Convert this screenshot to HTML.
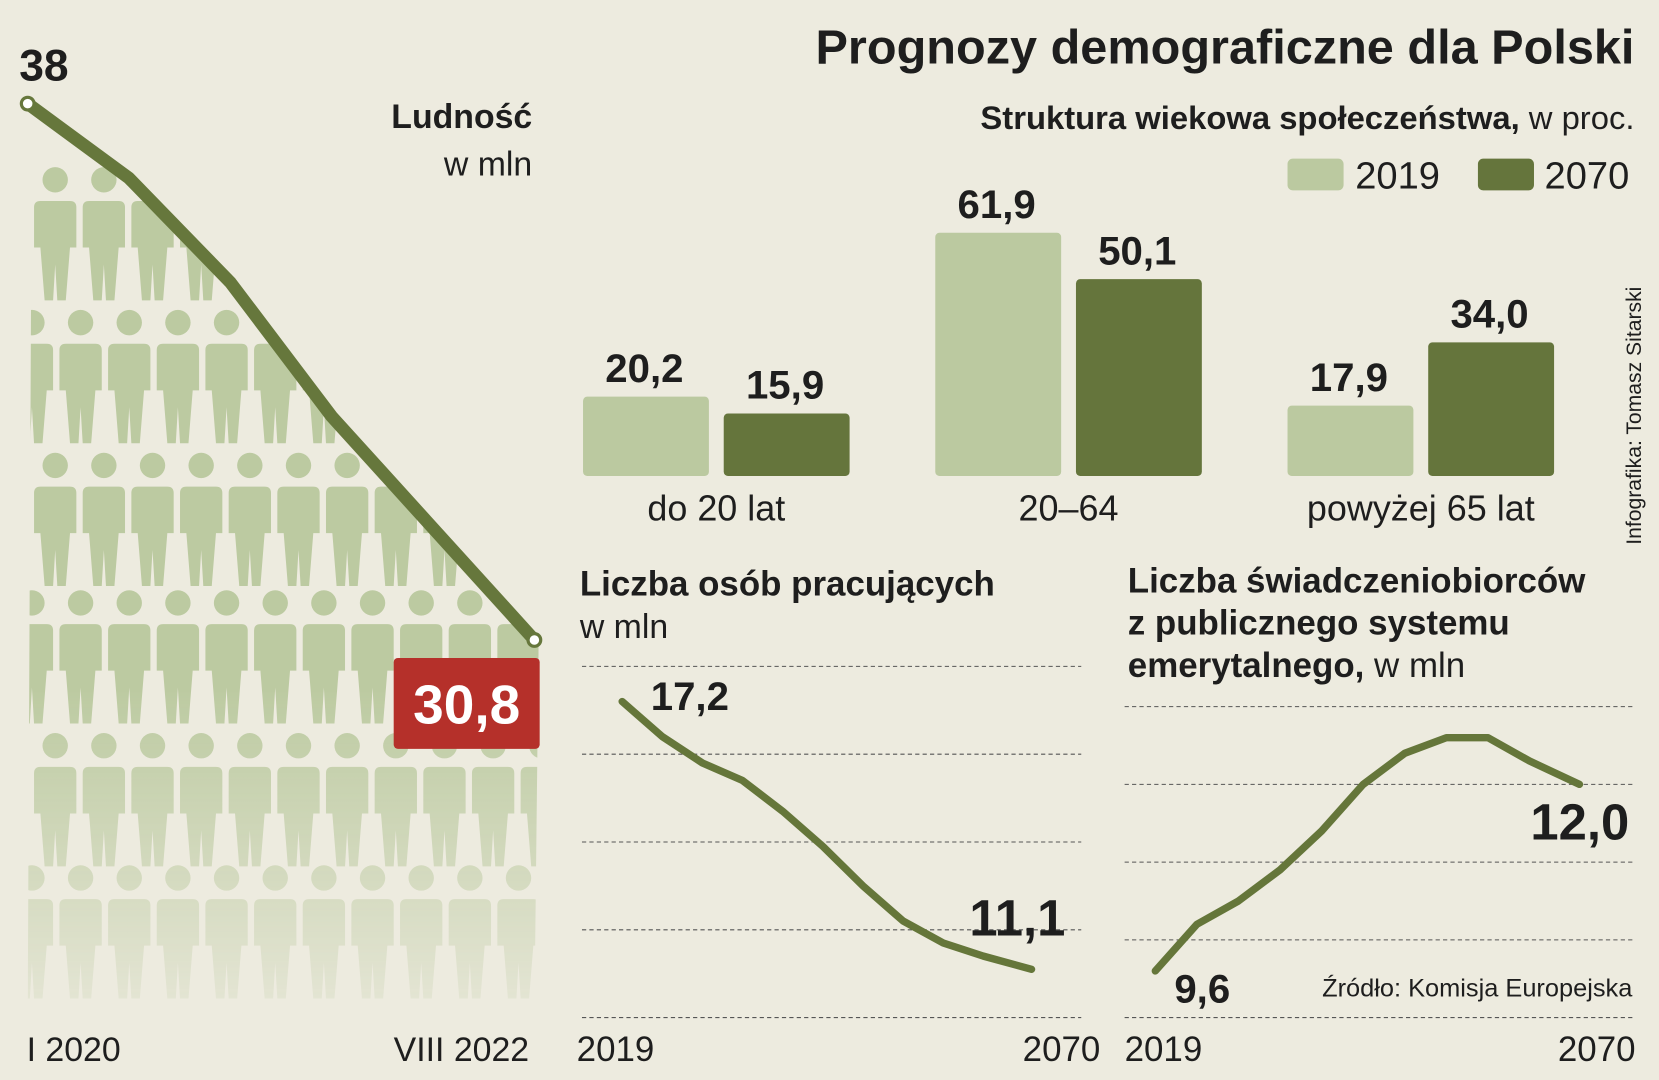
<!DOCTYPE html>
<html><head><meta charset="utf-8">
<style>
html,body{margin:0;padding:0;background:#edebdf;}
svg{display:block;}
text{font-family:"Liberation Sans Narrow","Liberation Sans",sans-serif;fill:#1e1e1e;}
.b{font-weight:bold;}
</style></head>
<body>
<svg id="s" width="1659" height="1080" viewBox="0 0 1568 1021" xmlns="http://www.w3.org/2000/svg">
<rect x="0" y="0" width="1568" height="1021" fill="#edebdf"/>
<defs>
<clipPath id="pclip"><polygon id="pclipPoly" points=""/></clipPath>
<linearGradient id="fade" x1="0" y1="0" x2="0" y2="1">
<stop offset="0" stop-color="#fff" stop-opacity="1"/>
<stop offset="0.62" stop-color="#fff" stop-opacity="1"/>
<stop offset="1" stop-color="#fff" stop-opacity="0.15"/>
</linearGradient>
<mask id="fmask" maskUnits="userSpaceOnUse" x="0" y="150" width="520" height="810"><rect x="0" y="150" width="520" height="810" fill="url(#fade)"/></mask>
</defs>
<g id="people" clip-path="url(#pclip)" mask="url(#fmask)"></g>
<g id="popline"></g>
<text x="18" y="76" class="b" font-size="42">38</text>
<text x="503" y="121" class="b" font-size="32" text-anchor="end">Ludność</text>
<text x="503" y="166" font-size="32" text-anchor="end">w mln</text>
<rect x="372" y="622" width="138" height="86" rx="4" fill="#b5302a"/>
<text x="441" y="684" class="b" font-size="52" text-anchor="middle" style="fill:#fff">30,8</text>
<text x="25" y="1003" font-size="32">I 2020</text>
<text x="500" y="1003" font-size="32" text-anchor="end">VIII 2022</text>

<text x="1545" y="60" class="b" font-size="46" text-anchor="end">Prognozy demograficzne dla Polski</text>
<text x="1545" y="122" font-size="31" text-anchor="end"><tspan class="b">Struktura wiekowa społeczeństwa,</tspan> w proc.</text>
<rect x="1217" y="150" width="53" height="30" rx="5" fill="#bbc9a0"/>
<text x="1281" y="178" font-size="36">2019</text>
<rect x="1397" y="150" width="53" height="30" rx="5" fill="#65753c"/>
<text x="1460" y="178" font-size="36">2070</text>
<g id="bars"></g>
<text x="0" y="0" font-size="20" transform="translate(1551,515) rotate(-90)">Infografika: Tomasz Sitarski</text>

<text x="548" y="563" class="b" font-size="33">Liczba osób pracujących</text>
<text x="548" y="603" font-size="32">w mln</text>
<g id="work"></g>
<text x="545" y="1003" font-size="33">2019</text>
<text x="1040" y="1003" font-size="33" text-anchor="end">2070</text>

<text x="1066" y="560" class="b" font-size="33">Liczba świadczeniobiorców</text>
<text x="1066" y="600" class="b" font-size="33">z publicznego systemu</text>
<text x="1066" y="640" font-size="33"><tspan class="b">emerytalnego,</tspan> w mln</text>
<g id="pens"></g>
<text x="1543" y="942" font-size="24" text-anchor="end">Źródło: Komisja Europejska</text>
<text x="1063" y="1003" font-size="33">2019</text>
<text x="1546" y="1003" font-size="33" text-anchor="end">2070</text>
</svg>
<script>
// ---- data ----
const popDates = [0, 1, 2, 3, 4, 5];
const popValues = [38.0, 37.0, 35.6, 33.8, 32.3, 30.8];
const ageCategories = ["do 20 lat", "20–64", "powyżej 65 lat"];
const ageValues2019 = [20.2, 61.9, 17.9];
const ageValues2070 = [15.9, 50.1, 34.0];
const ageLabels2019 = ["20,2", "61,9", "17,9"];
const ageLabels2070 = ["15,9", "50,1", "34,0"];
const workYears = [2019, 2024, 2029, 2034, 2039, 2044, 2049, 2054, 2059, 2064, 2070];
const workValues = [17.2, 16.4, 15.8, 15.4, 14.7, 13.9, 13.0, 12.2, 11.7, 11.4, 11.1];
const workTicks = [18, 16, 14, 12, 10];
const pensYears = [2019, 2024, 2029, 2034, 2039, 2044, 2049, 2054, 2059, 2064, 2070];
const pensValues = [9.6, 10.2, 10.5, 10.9, 11.4, 12.0, 12.4, 12.6, 12.6, 12.3, 12.0];
const pensTicks = [13, 12, 11, 10, 9];

const NS = "http://www.w3.org/2000/svg";
function mk(tag, attrs, parent) {
  const e = document.createElementNS(NS, tag);
  for (const k in attrs) e.setAttribute(k, attrs[k]);
  parent.appendChild(e);
  return e;
}

// ---- population line ----
const px = d => 26 + d * (505 - 26) / 5;
const py = v => 98 + (38 - v) * (605 - 98) / (38 - 30.8);
const popPts = popDates.map((d, i) => [px(d), py(popValues[i])]);
const popG = document.getElementById('popline');
const pl = mk('polyline', {points: popPts.map(p => p.join(',')).join(' '), fill: 'none', stroke: '#66773c', 'stroke-width': 12, 'stroke-linejoin': 'round', 'stroke-linecap': 'round'}, popG);


const c0 = mk('circle', {cx: popPts[0][0], cy: popPts[0][1], r: 6, fill: '#fff', stroke: '#66773c', 'stroke-width': 3}, popG);


const c1 = mk('circle', {cx: popPts[5][0], cy: popPts[5][1], r: 6, fill: '#fff', stroke: '#66773c', 'stroke-width': 3}, popG);


document.getElementById('pclipPoly').setAttribute('points',
  popPts.map(p => (p[0] + 4) + ',' + (p[1] + 4)).join(' ') + ' 505,960 26,960');

// ---- people silhouettes ----
const peopleG = document.getElementById('people');
const rowsY = [170, 305, 440, 570, 705, 830];
rowsY.forEach((hy, r) => {
  const start = r % 2 === 0 ? 52 : 30;
  for (let cx = start; cx < 530; cx += 46) {
    const g = mk('g', {fill: '#bccaa1'}, peopleG);
    
    
    mk('circle', {cx: cx, cy: hy, r: 12}, g);
    const d = `M${cx-20},${hy+26} Q${cx-20},${hy+20} ${cx-14},${hy+20} L${cx+14},${hy+20} Q${cx+20},${hy+20} ${cx+20},${hy+26} L${cx+20},${hy+64} L${cx+14},${hy+64} L${cx+10},${hy+114} L${cx+2},${hy+114} L${cx},${hy+80} L${cx-2},${hy+114} L${cx-10},${hy+114} L${cx-14},${hy+64} L${cx-20},${hy+64} Z`;
    mk('path', {d: d}, g);
  }
});

// ---- bar chart ----
const barsG = document.getElementById('bars');
const base = 450, unit = 230 / 61.9;
const groupX = [551, 884, 1217];
ageCategories.forEach((cat, i) => {
  const x1 = groupX[i], x2 = groupX[i] + 133;
  const h1 = ageValues2019[i] * unit, h2 = ageValues2070[i] * unit;
  const b1 = mk('rect', {x: x1, y: base - h1, width: 119, height: h1, rx: 4, fill: '#bbc9a0'}, barsG);
  
  
  const b2 = mk('rect', {x: x2, y: base - h2, width: 119, height: h2, rx: 4, fill: '#65753c'}, barsG);
  
  
  const t1 = mk('text', {x: x1 + 58, y: base - h1 - 14, 'text-anchor': 'middle', 'font-size': 38, class: 'b'}, barsG);
  t1.textContent = ageLabels2019[i];
  
  
  const t2 = mk('text', {x: x2 + 58, y: base - h2 - 14, 'text-anchor': 'middle', 'font-size': 38, class: 'b'}, barsG);
  t2.textContent = ageLabels2070[i];
  
  
  const tc = mk('text', {x: x1 + 126, y: 492, 'text-anchor': 'middle', 'font-size': 34}, barsG);
  tc.textContent = cat;
  
  
});

// ---- line charts ----
function lineChart(gid, years, vals, ticks, x0, x1, gx0, gx1, yTop, yBot, labels) {
  const g = document.getElementById(gid);
  const tMax = ticks[0], tMin = ticks[ticks.length - 1];
  const ys = v => yBot - (v - tMin) * (yBot - yTop) / (tMax - tMin);
  const xs = y => x0 + (y - years[0]) * (x1 - x0) / (years[years.length - 1] - years[0]);
  ticks.forEach(t => {
    const l = mk('line', {x1: gx0, x2: gx1, y1: ys(t), y2: ys(t), stroke: '#555', 'stroke-width': 1, 'stroke-dasharray': '4,3'}, g);
    
    
  });
  const p = mk('polyline', {points: years.map((y, i) => xs(y) + ',' + ys(vals[i])).join(' '), fill: 'none', stroke: '#65763a', 'stroke-width': 7, 'stroke-linejoin': 'round', 'stroke-linecap': 'round'}, g);
  
  
  labels.forEach(lb => {
    const v = lb.idx === 0 ? vals[0] : vals[vals.length - 1];
    const t = mk('text', {x: lb.x, y: ys(v) + lb.dy, 'font-size': lb.size, class: 'b', 'text-anchor': lb.anchor}, g);
    t.textContent = v.toFixed(1).replace('.', ',');
    
    
  });
}
lineChart('work', workYears, workValues, workTicks, 588, 975, 550, 1022, 630, 962, [
  {idx: 0, x: 615, dy: 8, size: 38, anchor: 'start', name: 'workers-start-value'},
  {idx: 1, x: 1007, dy: -32, size: 48, anchor: 'end', name: 'workers-end-value'}
]);
lineChart('pens', pensYears, pensValues, pensTicks, 1092, 1493, 1063, 1545, 668, 962, [
  {idx: 0, x: 1110, dy: 30, size: 38, anchor: 'start', name: 'pension-start-value'},
  {idx: 1, x: 1540, dy: 52, size: 48, anchor: 'end', name: 'pension-end-value'}
]);
</script>
</body></html>
